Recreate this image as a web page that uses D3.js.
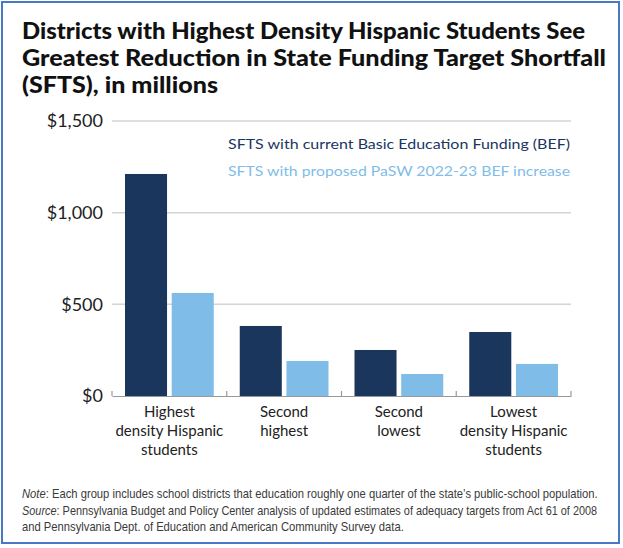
<!DOCTYPE html>
<html>
<head>
<meta charset="utf-8">
<script src="https://cdn.jsdelivr.net/npm/d3@7"></script>
<style>
  html, body { margin: 0; padding: 0; background: #fff; }
  svg { display: block; }
</style>
</head>
<body>
<svg id="chart" width="623" height="548"></svg>
<script>
// Quartiles of districts by density of Hispanic students
const categories = [
  ["Highest", "density Hispanic", "students"],
  ["Second", "highest"],
  ["Second", "lowest"],
  ["Lowest", "density Hispanic", "students"]
];
const categoryKeys = ["highest", "secondHighest", "secondLowest", "lowest"];
// State funding target shortfall, $ millions
const currentBEF = [1211, 382, 251, 349];
const proposedBEF = [562, 191, 120, 175];
const seriesNames = [
  "SFTS with current Basic Education Funding (BEF)",
  "SFTS with proposed PaSW 2022-23 BEF increase"
];
const yTicks = [0, 500, 1000, 1500];
const yTickLabels = ["$0", "$500", "$1,000", "$1,500"];

const colors = ["#1b365d", "#7fbde8"];
const svg = d3.select("#chart");
const font = "Lato, 'Open Sans', sans-serif";

// frame
svg.append("rect")
  .attr("x", 2).attr("y", 2).attr("width", 617).attr("height", 541)
  .attr("fill", "none").attr("stroke", "#4a78c8").attr("stroke-width", 2);

// title
const titleLines = [
  { t: "Districts with Highest Density Hispanic Students See", w: 563 },
  { t: "Greatest Reduction in State Funding Target Shortfall", w: 584 },
  { t: "(SFTS), in millions", w: 196 }
];
titleLines.forEach((l, i) => {
  svg.append("text")
    .attr("x", 22).attr("y", 39 + i * 27)
    .attr("font-family", font).attr("font-weight", 900).attr("font-size", 22)
    .attr("fill", "#111")
    .attr("textLength", l.w).attr("lengthAdjust", "spacingAndGlyphs")
    .text(l.t);
});

const x0 = d3.scaleBand().domain(categoryKeys).range([112, 571]).paddingInner(0).paddingOuter(0);
const x1 = d3.scaleBand().domain([0, 1]).range([13, x0.bandwidth() - 13]).paddingInner(0.1);
const y = d3.scaleLinear().domain([0, 1500]).range([396, 121]);

// gridlines
svg.append("g").selectAll("line").data(yTicks.filter(d => d > 0)).join("line")
  .attr("x1", 112).attr("x2", 571)
  .attr("y1", d => y(d)).attr("y2", d => y(d))
  .attr("stroke", "#d4d4d4").attr("stroke-width", 1.5);

// y labels
svg.append("g").selectAll("text").data(yTicks).join("text")
  .attr("x", 103).attr("y", d => y(d)).attr("dy", "0.36em")
  .attr("text-anchor", "end")
  .attr("font-family", font).attr("font-size", 18).attr("fill", "#222")
  .text((d, i) => yTickLabels[i]);

// bars
const series = [currentBEF, proposedBEF];
const groups = svg.append("g").selectAll("g").data(categoryKeys).join("g")
  .attr("transform", d => `translate(${x0(d)},0)`);
groups.selectAll("rect").data((d, i) => series.map((s, k) => ({ k, v: s[i] }))).join("rect")
  .attr("x", d => x1(d.k))
  .attr("width", x1.bandwidth())
  .attr("y", d => y(d.v))
  .attr("height", d => y(0) - y(d.v))
  .attr("fill", d => colors[d.k]);

// baseline with group dividers
const axis = d3.axisBottom(x0).tickSize(0).tickFormat("");
const axG = svg.append("g").attr("transform", `translate(0,${y(0)})`).call(axis);
axG.select(".domain").attr("stroke", "#999").attr("stroke-width", 1.2);
const bounds = [112].concat(categoryKeys.map(k => x0(k) + x0.bandwidth()));
axG.selectAll(".div").data(bounds).join("line")
  .attr("x1", d => d).attr("x2", d => d).attr("y1", 0).attr("y2", -5)
  .attr("stroke", "#999").attr("stroke-width", 1.2);

// category labels
categoryKeys.forEach((k, i) => {
  const t = svg.append("text")
    .attr("x", x0(k) + x0.bandwidth() / 2).attr("y", 417)
    .attr("text-anchor", "middle")
    .attr("font-family", font).attr("font-size", 15).attr("fill", "#222");
  categories[i].forEach((line, j) => {
    t.append("tspan").attr("x", x0(k) + x0.bandwidth() / 2).attr("dy", j === 0 ? 0 : 19).text(line);
  });
});

// legend
seriesNames.forEach((n, i) => {
  svg.append("text")
    .attr("x", 570).attr("y", 149 + i * 27)
    .attr("text-anchor", "end")
    .attr("font-family", font).attr("font-size", 14).attr("fill", colors[i])
    .attr("textLength", 342).attr("lengthAdjust", "spacingAndGlyphs")
    .text(n);
});

// notes: condensed horizontally so each line keeps its height
const noteFont = "'Liberation Sans', Arial, sans-serif";
const notes = [
  { lead: "Note", rest: ": Each group includes school districts that education roughly one quarter of the state’s public-school population.", w: 576 },
  { lead: "Source", rest: ": Pennsylvania Budget and Policy Center analysis of updated estimates of adequacy targets from Act 61 of 2008", w: 576 },
  { lead: "", rest: "and Pennsylvania Dept. of Education and American Community Survey data.", w: 382 }
];
notes.forEach((n, i) => {
  const g = svg.append("g");
  const t = g.append("text")
    .attr("x", 0).attr("y", 0)
    .attr("font-family", noteFont).attr("font-size", 12.5).attr("fill", "#3a3a3a");
  if (n.lead) t.append("tspan").attr("font-style", "italic").text(n.lead);
  t.append("tspan").text(n.rest);
  const w = t.node().getComputedTextLength();
  g.attr("transform", `translate(22,${498 + i * 16.5}) scale(${n.w / w},1)`);
});
</script>
</body>
</html>
